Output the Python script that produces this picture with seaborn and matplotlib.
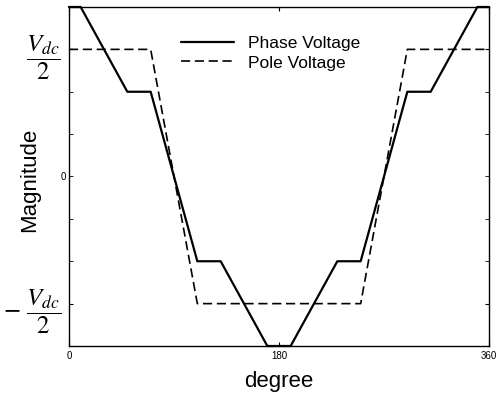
import numpy as np
import pandas as pd
import matplotlib
matplotlib.use("Agg")
import matplotlib.pyplot as plt
import seaborn as sns

# angles in degrees, magnitudes in steps of Vdc/6
phase_deg = [0, 10, 50, 70, 110, 130, 170, 190, 230, 250, 290, 310, 350, 360]
phase_val = [4, 4, 2, 2, -2, -2, -4, -4, -2, -2, 2, 2, 4, 4]
pole_deg = [0, 70, 110, 250, 290, 360]
pole_val = [3, 3, -3, -3, 3, 3]

x_ticks = [0, 180, 360]
y_major = [-3, 3]
y_major_labels = [r"$-\ \dfrac{V_{dc}}{2}$", r"$\dfrac{V_{dc}}{2}$"]
y_minor = [-2, -1, 0, 1, 2]
y_minor_labels = ["", "", "0", "", ""]

sns.set_style("ticks")
plt.rcParams["font.family"] = ["Liberation Sans", "DejaVu Sans"]
plt.rcParams["mathtext.fontset"] = "stix"
plt.rcParams["text.color"] = "black"
plt.rcParams["axes.labelcolor"] = "black"
plt.rcParams["xtick.color"] = "black"
plt.rcParams["ytick.color"] = "black"

phase = pd.DataFrame({"deg": phase_deg, "val": phase_val})
pole = pd.DataFrame({"deg": pole_deg, "val": pole_val})

fig = plt.figure(figsize=(4.97, 3.99), dpi=100)
ax = fig.add_axes([69 / 497, 1 - 346 / 399, 420 / 497, 339 / 399])

sns.lineplot(data=phase, x="deg", y="val", ax=ax, color="black", linewidth=1.6,
             label="Phase Voltage")
sns.lineplot(data=pole, x="deg", y="val", ax=ax, color="black", linewidth=1.2,
             label="Pole Voltage")
ax.lines[1].set_dashes((5.5, 2.8))
for ln in ax.lines:
    ln.set_clip_on(False)

ax.set_xlim(0, 360)
ax.set_ylim(-4, 4)
ax.set_xticks(x_ticks)
ax.set_xticklabels([str(t) for t in x_ticks])
ax.set_yticks(y_major)
ax.set_yticklabels(y_major_labels)
ax.set_yticks(y_minor, minor=True)
ax.set_yticklabels(y_minor_labels, minor=True)

ax.tick_params(axis="x", direction="in", top=True, length=3, labelsize=7, pad=3.5)
ax.tick_params(axis="y", which="both", direction="in", right=True, length=3)
ax.tick_params(axis="y", which="major", labelsize=18, pad=6)
ax.tick_params(axis="y", which="minor", labelsize=7, pad=2)

for s in ax.spines.values():
    s.set_linewidth(1.0)
    s.set_color("black")

ax.set_xlabel("degree", fontsize=16)
ax.set_ylabel("Magnitude", fontsize=16)
ax.xaxis.set_label_coords(0.5, -0.075)
ax.yaxis.set_label_coords(-0.069, 0.49)

ax.legend(loc="upper center", bbox_to_anchor=(0.48, 0.962), frameon=False, fontsize=12.5,
          handlelength=3.05, handletextpad=0.8, labelspacing=0.27)

fig.savefig("out.png", dpi=100)
